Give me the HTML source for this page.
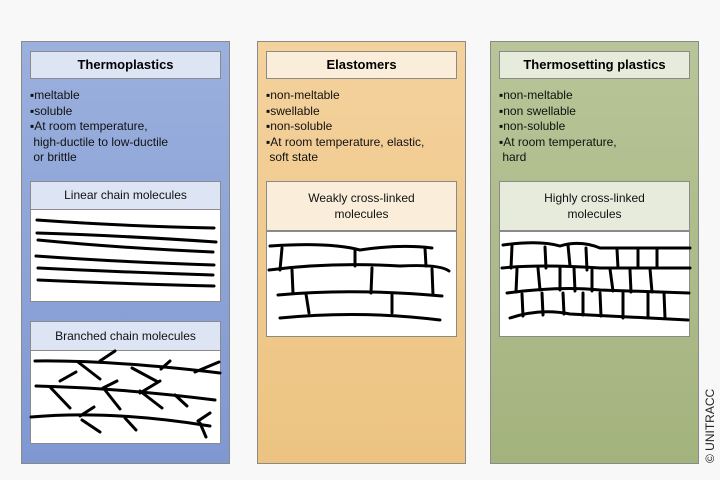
<!DOCTYPE html>
<html><head><style>
body{margin:0;width:720px;height:480px;background:#f8f8f8;position:relative;overflow:hidden;font-family:"Liberation Sans",sans-serif;}
.p{position:absolute;top:41px;width:207px;height:421px;border:1px solid #8a8a8a;}
.t{position:absolute;left:8px;width:189px;height:26px;border:1px solid #8a8a8a;font-weight:bold;font-size:13px;text-align:center;line-height:26px;color:#000;}
.txt{position:absolute;left:8px;top:46px;font-size:12px;line-height:15.5px;color:#111;}
.s{position:absolute;left:8px;width:189px;border:1px solid #8a8a8a;font-size:12px;text-align:center;color:#111;}
.img{position:absolute;left:8px;width:189px;background:#fff;border:1px solid #8a8a8a;}
</style></head><body>
<div class="p" style="left:21px;background:linear-gradient(#9bb0dd,#7f98d2);">
 <div class="t" style="top:9px;background:#dde4f4">Thermoplastics</div>
 <div class="txt">▪meltable<br>▪soluble<br>▪At room temperature,<br>&nbsp;high-ductile to low-ductile<br>&nbsp;or brittle</div>
 <div class="s" style="top:139px;height:27px;line-height:27px;background:#dde4f4">Linear chain molecules</div>
 <div class="img" style="top:167px;height:91px"></div>
 <div class="s" style="top:279px;height:28px;line-height:28px;background:#dde4f4">Branched chain molecules</div>
 <div class="img" style="top:308px;height:92px"></div>
</div>
<div class="p" style="left:257px;background:linear-gradient(#f4d29d,#ecc381);">
 <div class="t" style="top:9px;background:#faeedb">Elastomers</div>
 <div class="txt">▪non-meltable<br>▪swellable<br>▪non-soluble<br>▪At room temperature, elastic,<br>&nbsp;soft state</div>
 <div class="s" style="top:139px;height:48px;line-height:16px;padding-top:0;background:#faeedb"><div style="padding-top:8px">Weakly cross-linked<br>molecules</div></div>
 <div class="img" style="top:189px;height:104px"></div>
</div>
<div class="p" style="left:490px;background:linear-gradient(#b8c598,#a3b37e);">
 <div class="t" style="top:9px;background:#e7ebdc">Thermosetting plastics</div>
 <div class="txt">▪non-meltable<br>▪non swellable<br>▪non-soluble<br>▪At room temperature,<br>&nbsp;hard</div>
 <div class="s" style="top:139px;height:48px;line-height:16px;background:#e7ebdc"><div style="padding-top:8px">Highly cross-linked<br>molecules</div></div>
 <div class="img" style="top:189px;height:104px"></div>
</div>
<svg style="position:absolute;left:0;top:0" width="720" height="480" fill="none" stroke="#000" stroke-width="3" stroke-linecap="round">
<path d="M37 220 Q120 226 214 228 M37 233 Q130 236 216 242 M38 240 Q120 248 213 252 M36 256 Q120 262 214 265 M38 268 Q120 272 213 275 M38 280 Q130 284 214 286"/>
<path d="M35 361 Q110 360 220 373 M36 386 Q120 388 215 400 M31 417 Q110 410 210 426"/>
<path d="M78 362 L100 379 M100 361 L115 351 M132 368 L158 382 M161 369 L170 361 M195 372 L219 362 M60 381 L76 372 M50 387 L70 408 M103 388 L117 381 M105 390 L120 409 M140 393 L160 381 M140 391 L162 408 M175 395 L187 406 M82 420 L100 432 M80 416 L94 407 M125 418 L136 430 M198 421 L210 413 M200 423 L206 437"/>
<path d="M270 246 Q330 242 360 250 Q400 244 432 248 M269 270 Q330 262 400 266 Q440 264 449 271 M278 295 Q350 288 442 296 M280 318 Q360 310 440 320"/>
<path d="M282 248 L280 270 M355 250 L355 266 M425 248 L426 266 M292 270 L293 293 M372 268 L371 293 M432 269 L433 295 M306 294 L309 313 M392 295 L392 313"/>
<path d="M503 245 Q540 240 560 246 Q580 240 600 248 L690 248 M502 268 Q540 264 600 268 L690 268 M507 293 Q560 286 600 290 L689 293 M510 318 Q540 308 570 314 L688 320"/>
<path d="M512 246 L511 268 M545 247 L546 268 M568 245 L570 266 M586 248 L587 270 M617 249 L618 268 M638 250 L638 268 M657 248 L657 268 M517 269 L516 292 M538 268 L540 290 M560 268 L560 290 M574 268 L575 291 M592 270 L592 291 M610 269 L613 291 M630 270 L631 292 M650 269 L652 292 M522 294 L523 316 M542 293 L543 315 M563 293 L564 314 M583 293 L583 315 M600 293 L601 316 M623 293 L623 318 M648 293 L648 318 M664 293 L665 318"/>
</svg>
<div style="position:absolute;left:703px;top:463px;transform:rotate(-90deg);transform-origin:0 0;font-size:12px;color:#222;white-space:nowrap;width:90px;">© UNITRACC</div>
</body></html>
